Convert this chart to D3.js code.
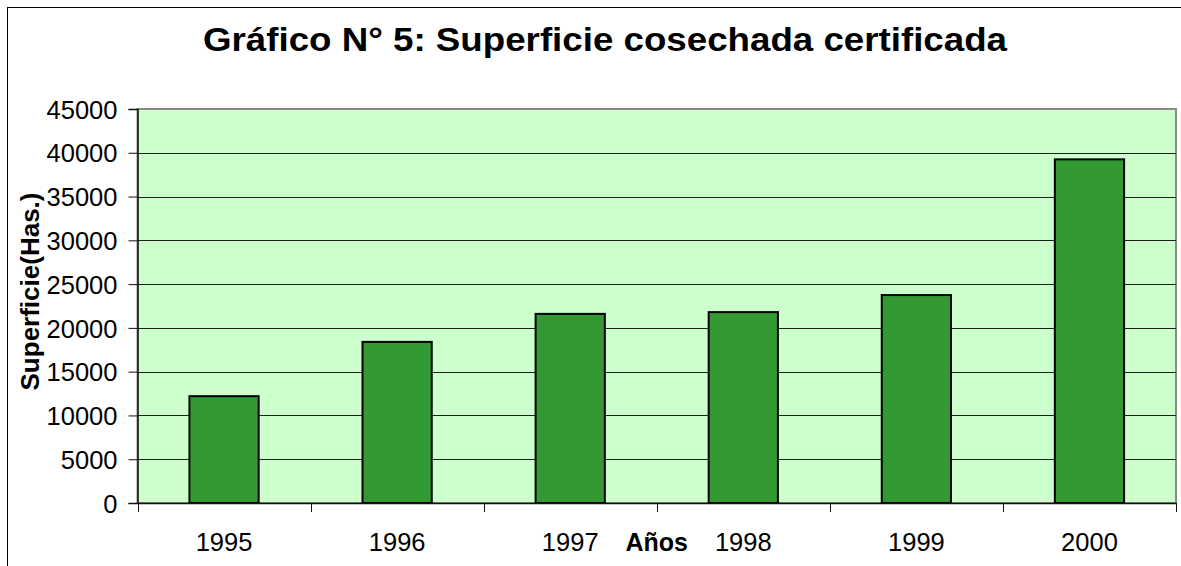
<html>
  <head>
    <title>Superficie cosechada certificada</title>
    <script src="https://cdn.jsdelivr.net/npm/d3@7"></script>
    <style type="text/css">
        * {
            padding: 0px;
            margin: 0px;
        }
        body {
            background: white;
            overflow: hidden;
        }
        text {
            font-family: "Liberation Sans", Arial, sans-serif;
        }
    </style>
  </head>
  <body>
    <svg id="viz"></svg>
  </body>
</html>

<script language="javascript">

    // chart values
    var years = ["1995", "1996", "1997", "1998", "1999", "2000"];
    var hectares = [12200, 18400, 21600, 21800, 23750, 39250];
    var yTicks = [0, 5000, 10000, 15000, 20000, 25000, 30000, 35000, 40000, 45000];

    var titleText = "Gráfico N° 5: Superficie cosechada certificada";
    var xTitle = "Años";
    var yTitle = "Superficie(Has.)";

    var w = 1181, h = 566;
    // plot area (note: "top" is taken by window.top)
    var pLeft = 137.5, pRight = 1176, pTop = 109, pBottom = 503;

    var viz = d3.select("#viz")
        .attr("width", w)
        .attr("height", h);

    // outer chart frame, runs off the right and bottom edges
    viz.append("rect")
        .attr("x", 7.5)
        .attr("y", 7.5)
        .attr("width", 1300)
        .attr("height", 700)
        .style("fill", "white")
        .style("stroke", "black")
        .style("stroke-width", 1);

    var x = d3.scaleBand()
        .domain(years)
        .range([pLeft, pRight])
        .paddingInner(0)
        .paddingOuter(0);

    var y = d3.scaleLinear()
        .domain([0, 45000])
        .range([pBottom, pTop]);

    // plot background + gray border (top/right show)
    viz.append("rect")
        .attr("x", pLeft)
        .attr("y", pTop)
        .attr("width", pRight - pLeft)
        .attr("height", pBottom - pTop)
        .style("fill", "#ccffcc")
        .style("stroke", "#8a8a8a")
        .style("stroke-width", 2);

    // gridlines
    viz.append("g")
        .selectAll("line")
        .data(yTicks.filter(d => d > 0 && d < 45000))
        .enter()
        .append("line")
        .attr("x1", pLeft)
        .attr("x2", pRight)
        .attr("y1", d => Math.round(y(d)) + 0.5)
        .attr("y2", d => Math.round(y(d)) + 0.5)
        .style("stroke", "#1e1e1e")
        .style("stroke-width", 1);

    // bars, excel style gap width 150%
    var bw = x.bandwidth() / 2.5;
    viz.append("g")
        .selectAll("rect")
        .data(years)
        .enter()
        .append("rect")
        .attr("x", d => x(d) + (x.bandwidth() - bw) / 2)
        .attr("y", (d, i) => y(hectares[i]))
        .attr("width", bw)
        .attr("height", (d, i) => y(0) - y(hectares[i]))
        .style("fill", "#339933")
        .style("stroke", "black")
        .style("stroke-width", 2);

    // y axis
    var yAxis = viz.append("g")
        .attr("transform", "translate(" + pLeft + ",0)")
        .call(d3.axisLeft(y)
            .tickValues(yTicks)
            .tickFormat(d3.format("d"))
            .tickSize(9)
            .tickPadding(11));
    yAxis.select(".domain").style("stroke", "#111").style("stroke-width", 1.5);
    yAxis.selectAll(".tick line").style("stroke", "#111");
    yAxis.selectAll("text")
        .style("font-size", "25.5px")
        .style("fill", "black")
        .attr("dy", "0.36em");

    // x axis: labels centred in bands, ticks at band edges
    var xAxis = viz.append("g")
        .attr("transform", "translate(0," + pBottom + ")")
        .call(d3.axisBottom(x).tickSize(0).tickPadding(0));
    xAxis.select(".domain").style("stroke", "#111").style("stroke-width", 1.5);
    xAxis.selectAll("text")
        .attr("y", 47.5)
        .attr("dy", 0)
        .style("font-size", "25.5px")
        .style("fill", "black");

    var edges = years.map(d => x(d)).concat([pRight]);
    xAxis.selectAll(".edge")
        .data(edges)
        .enter()
        .append("line")
        .attr("class", "edge")
        .attr("x1", d => Math.round(d) + 0.5)
        .attr("x2", d => Math.round(d) + 0.5)
        .attr("y1", 0)
        .attr("y2", 9)
        .style("stroke", "#111")
        .style("stroke-width", 1);

    // titles
    viz.append("text")
        .attr("x", 203)
        .attr("y", 51)
        .attr("textLength", 804)
        .attr("lengthAdjust", "spacingAndGlyphs")
        .style("font-size", "33px")
        .style("font-weight", "bold")
        .text(titleText);

    viz.append("text")
        .attr("x", (pLeft + pRight) / 2)
        .attr("y", 551)
        .attr("text-anchor", "middle")
        .style("font-size", "25px")
        .style("font-weight", "bold")
        .text(xTitle);

    viz.append("text")
        .attr("transform", "translate(39,291.5) rotate(-90)")
        .attr("text-anchor", "middle")
        .style("font-size", "26px")
        .style("font-weight", "bold")
        .text(yTitle);
</script>
